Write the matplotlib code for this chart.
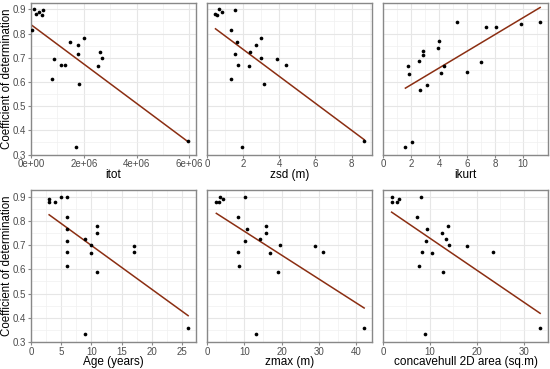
import numpy as np
import matplotlib
matplotlib.use("Agg")
import matplotlib.pyplot as plt
from matplotlib.ticker import MultipleLocator

plt.rcParams['font.family'] = ['Liberation Sans', 'DejaVu Sans']

# coefficient of determination, shared by five of the panels
r2 = [0.900, 0.899, 0.889, 0.880, 0.877, 0.815, 0.781, 0.767, 0.752, 0.724,
      0.717, 0.700, 0.697, 0.672, 0.671, 0.666, 0.613, 0.591, 0.358, 0.332]

itot = [0.127e6, 0.456e6, 0.29e6, 0.18e6, 0.405e6, 0.05e6, 1.99e6, 1.49e6, 1.78e6, 2.61e6,
        1.78e6, 2.68e6, 0.87e6, 1.14e6, 1.30e6, 2.53e6, 0.81e6, 1.81e6, 5.95e6, 1.70e6]
zsd = [0.67, 1.53, 0.84, 0.47, 0.56, 1.34, 2.98, 1.66, 2.70, 2.36,
       1.53, 2.98, 3.87, 1.73, 4.39, 2.33, 1.30, 3.14, 8.69, 1.92]
age = [6, 5, 3, 3, 4, 6, 11, 6, 11, 9,
       6, 10, 17, 6, 17, 10, 6, 11, 26, 9]
zmax = [10.2, 3.4, 4.4, 2.5, 3.2, 8.3, 15.7, 10.7, 15.9, 14.1,
        10.2, 19.5, 28.9, 8.3, 31.0, 16.8, 8.6, 18.9, 42.1, 13.2]
hull = [8.0, 1.84, 3.33, 1.99, 2.9, 7.3, 13.8, 9.3, 12.6, 13.4,
        9.1, 14.1, 17.9, 8.4, 23.5, 10.5, 7.7, 12.7, 33.5, 8.9]

# the ikurt panel has its own set of points
ikurt = [5.30, 7.34, 8.06, 9.86, 11.22, 3.98, 3.93, 2.88, 2.83, 2.59,
         1.77, 1.87, 4.32, 4.12, 6.98, 6.00, 3.16, 2.61, 2.05, 1.60]
r2_ikurt = [0.846, 0.829, 0.826, 0.840, 0.846, 0.770, 0.739, 0.726, 0.713, 0.687,
            0.668, 0.632, 0.664, 0.638, 0.682, 0.642, 0.587, 0.566, 0.354, 0.331]

panels = [
    ("itot", itot, r2, 2e6),
    ("zsd (m)", zsd, r2, 2),
    ("ikurt", ikurt, r2_ikurt, 2),
    ("Age (years)", age, r2, 5),
    ("zmax (m)", zmax, r2, 10),
    ("concavehull 2D area (sq.m)", hull, r2, 10),
]

fig = plt.figure(figsize=(5.5, 3.69), dpi=100)
lefts = [31 / 550, 207 / 550, 383 / 550]
bottoms = [1 - 154.6 / 369, 1 - 342 / 369]
w, h = 165 / 550, 152 / 369

border = '#888888'
tick_col = '#4d4d4d'

for i, (label, x, y, step) in enumerate(panels):
    row, col = divmod(i, 3)
    ax = fig.add_axes([lefts[col], bottoms[row], w, h])
    x = np.array(x, dtype=float)
    y = np.array(y)

    ax.set_xlim(0, x.max() * 1.05)
    ax.set_ylim(0.30, 0.928)
    ax.xaxis.set_major_locator(MultipleLocator(step))
    ax.xaxis.set_minor_locator(MultipleLocator(step / 2))
    ax.yaxis.set_major_locator(MultipleLocator(0.1))
    ax.yaxis.set_minor_locator(MultipleLocator(0.05))
    ax.grid(which='major', color='#e6e6e6', lw=0.8)
    ax.grid(which='minor', color='#f0f0f0', lw=0.5)
    ax.set_axisbelow(True)

    ax.scatter(x, y, s=7, color='black', zorder=3, linewidths=0)
    k, b = np.polyfit(x, y, 1)
    xs = np.array([x.min(), x.max()])
    ax.plot(xs, k * xs + b, color='#8b2e12', lw=1.1, zorder=2)

    for s in ax.spines.values():
        s.set_color(border)
        s.set_linewidth(1.0)
    ax.tick_params(which='both', length=0, labelsize=7, labelcolor=tick_col)
    ax.tick_params(which='major', axis='x', length=2.5, color=border, pad=1)
    if col == 0:
        ax.tick_params(which='major', axis='y', length=2.5, color=border, pad=1)
        ax.set_ylabel("Coefficient of determination", fontsize=8.3)
        ax.yaxis.set_label_coords(-18 / 165, 0.5)
    else:
        ax.set_yticklabels([])
    if label == "itot":
        ax.set_xticks([0, 2e6, 4e6, 6e6])
        ax.set_xticklabels(["0e+00", "2e+06", "4e+06", "6e+06"])
    ax.set_xlabel(label, fontsize=8.5)
    ax.xaxis.set_label_coords(0.5, -14.5 / 152)

fig.savefig("out.png", dpi=100)
